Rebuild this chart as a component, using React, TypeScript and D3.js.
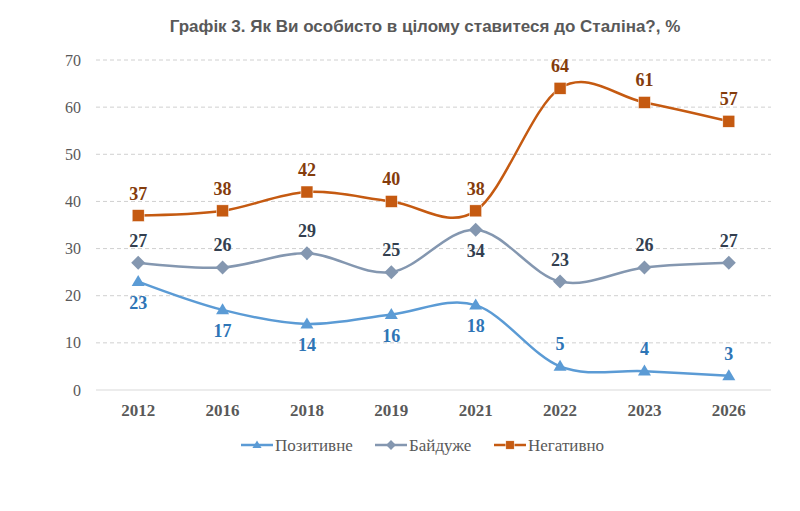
import * as d3 from 'd3';

const years = ['2012', '2016', '2018', '2019', '2021', '2022', '2023', '2026'];
const positive = [23, 17, 14, 16, 18, 5, 4, 3];
const neutral = [27, 26, 29, 25, 34, 23, 26, 27];
const negative = [37, 38, 42, 40, 38, 64, 61, 57];
const yTicks = [0, 10, 20, 30, 40, 50, 60, 70];

// which labels sit below the marker
const positiveBelow = [true, true, true, true, true, false, false, false];
const neutralBelow = [false, false, false, false, true, false, false, false];

const W = 800;
const H = 511;
const margin = { top: 60, right: 29, bottom: 121, left: 96 };
const serif = 'Liberation Serif, Times New Roman, serif';

type Series = {
  name: string;
  values: number[];
  below: boolean[];
  line: string;
  label: string;
  marker: 'triangle' | 'diamond' | 'square';
};

const series: Series[] = [
  { name: 'Позитивне', values: positive, below: positiveBelow, line: '#5b9bd5', label: '#2e75b6', marker: 'triangle' },
  { name: 'Байдуже', values: neutral, below: neutralBelow, line: '#8497b0', label: '#333f50', marker: 'diamond' },
  { name: 'Негативно', values: negative, below: years.map(() => false), line: '#c55a11', label: '#843c0c', marker: 'square' },
];

function Marker({ kind, x, y, color, size = 1 }: { kind: Series['marker']; x: number; y: number; color: string; size?: number }) {
  if (kind === 'square') {
    const s = 12 * size;
    return <rect x={x - s / 2} y={y - s / 2} width={s} height={s} fill={color} stroke="#fff" strokeWidth={0.5} />;
  }
  if (kind === 'diamond') {
    const r = 7 * size;
    return <path d={`M${x},${y - r}L${x + r},${y}L${x},${y + r}L${x - r},${y}Z`} fill={color} />;
  }
  const hw = 6.5 * size;
  const h = 11 * size;
  return <path d={`M${x},${y - h * 0.6}L${x + hw},${y + h * 0.4}L${x - hw},${y + h * 0.4}Z`} fill={color} />;
}

export default function App() {
  const x = d3.scaleBand<string>().domain(years).range([margin.left, W - margin.right]);
  const y = d3.scaleLinear().domain([0, 70]).range([H - margin.bottom, margin.top]);
  const cx = (i: number) => (x(years[i]) as number) + x.bandwidth() / 2;

  const line = d3.line<number>()
    .x((_, i) => cx(i))
    .y(d => y(d))
    .curve(d3.curveCardinal.tension(0));

  const legendItems = [
    { s: series[0], x: 241 },
    { s: series[1], x: 375 },
    { s: series[2], x: 494 },
  ];

  return (
    <svg width={W} height={H} style={{ display: 'block', position: 'absolute', left: 0, top: 0 }}>
      <rect width={W} height={H} fill="#fff" />
      <text x={425} y={32} textAnchor="middle" fontFamily="Liberation Sans, Arial, sans-serif"
        fontWeight="bold" fontSize={17} fill="#595959">
        Графік 3. Як Ви особисто в цілому ставитеся до Сталіна?, %
      </text>

      {yTicks.map(t => (
        <g key={t}>
          {t === 0 ? (
            <line x1={margin.left} x2={W - margin.right} y1={y(t)} y2={y(t)} stroke="#d9d9d9" strokeWidth={1.2} />
          ) : (
            <line x1={margin.left} x2={W - margin.right} y1={y(t)} y2={y(t)} stroke="#d0d0d0" strokeWidth={1} strokeDasharray="4,3" />
          )}
          <text x={81} y={y(t)} dy="0.35em" textAnchor="end" fontFamily={serif}
            fontSize={16} fill="#595959">{t}</text>
        </g>
      ))}

      {years.map((yr, i) => (
        <text key={yr} x={cx(i)} y={H - margin.bottom + 26} textAnchor="middle"
          fontFamily={serif} fontWeight="bold" fontSize={17} fill="#595959">{yr}</text>
      ))}

      {series.map(s => (
        <g key={s.name}>
          <path d={line(s.values) || ''} fill="none" stroke={s.line} strokeWidth={2.5} />
          {s.values.map((v, i) => (
            <Marker key={i} kind={s.marker} x={cx(i)} y={y(v)} color={s.line} />
          ))}
          {s.values.map((v, i) => (
            <text key={'l' + i} x={cx(i)} y={y(v) + (s.below[i] ? 27 : -16)} textAnchor="middle"
              fontFamily={serif} fontWeight="bold" fontSize={18} fill={s.label}>{v}</text>
          ))}
        </g>
      ))}

      {legendItems.map(({ s, x: lx }) => (
        <g key={s.name}>
          <line x1={lx} x2={lx + 32} y1={445} y2={445} stroke={s.line} strokeWidth={2.5} />
          <Marker kind={s.marker} x={lx + 16} y={445} color={s.line} size={0.7} />
          <text x={lx + 34} y={445} dy="0.35em" fontFamily={serif}
            fontSize={17} fill="#595959">{s.name}</text>
        </g>
      ))}
    </svg>
  );
}
